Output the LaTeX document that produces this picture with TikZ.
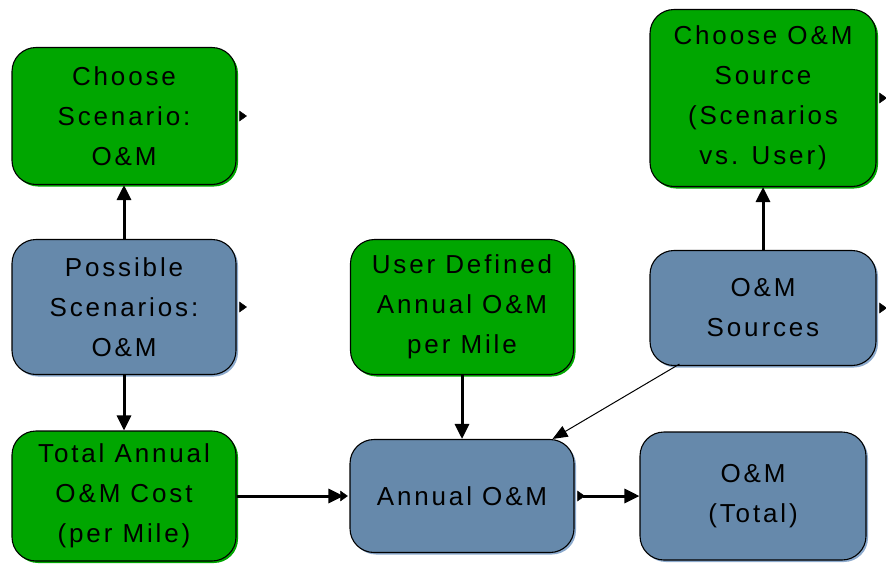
\documentclass[tikz,border=0pt]{standalone}
\usepackage{fontspec}
\setmainfont{Liberation Sans}
\usetikzlibrary{arrows.meta,shadows,calc}
\definecolor{gfill}{RGB}{0,166,0}
\definecolor{bfill}{RGB}{102,137,171}
\definecolor{bshadow}{RGB}{140,170,205}
\newfontfamily\boxfont[LetterSpace=11]{Liberation Sans}
\tikzset{
  base/.style={draw=black, line width=1.1pt, rounded corners=24pt, align=center,
    font=\boxfont\fontsize{26}{40}\selectfont, inner sep=0pt},
  gbox/.style={base, fill=gfill, drop shadow={shadow xshift=2pt, shadow yshift=-2pt, fill=gfill, opacity=1}},
  bbox/.style={base, fill=bfill, drop shadow={shadow xshift=2pt, shadow yshift=-2pt, fill=bshadow, opacity=1}},
  flow/.style={line width=3pt, -{Triangle[length=15pt,width=14pt]}},
  thinflow/.style={line width=1pt, -{Triangle[length=15pt,width=12pt]}},
  markglyph/.style={fill=black, draw=black, line width=0.4pt}
}
\begin{document}
\begin{tikzpicture}[x=1pt,y=-1pt]
\useasboundingbox (0,0) rectangle (886,563);
\node[gbox, minimum width=224pt, minimum height=137pt] (cs) at (124,116) {Choose\\Scenario:\\O\&M};
\node[bbox, minimum width=224pt, minimum height=135pt] (ps) at (124,307) {Possible\\Scenarios:\\O\&M};
\node[gbox, minimum width=224pt, minimum height=130pt] (ta) at (124,496) {Total Annual\\O\&M Cost\\(per Mile)};
\node[gbox, minimum width=223pt, minimum height=135pt] (ud) at (462,307) {User Defined\\Annual O\&M\\per Mile};
\node[bbox, minimum width=224pt, minimum height=113pt] (ao) at (462,496) {Annual O\&M};
\node[gbox, minimum width=226pt, minimum height=177pt] (cos) at (763,98) {Choose O\&M\\Source\\(Scenarios\\vs. User)};
\node[bbox, minimum width=226pt, minimum height=115pt] (os) at (763,308) {O\&M\\Sources};
\node[bbox, minimum width=226pt, minimum height=128pt] (ot) at (753,496) {O\&M\\(Total)};

\draw[flow] (ps.north) -- (cs.south);
\draw[flow] (ps.south) -- (ta.north);
\draw[flow] (ta.east) -- ($(ao.west)+(-6,0)$);
\draw[flow] (ud.south) -- (ao.north);
\draw[flow] (os.north) -- (cos.south);
\draw[flow] ($(ao.east)+(8,0)$) -- (ot.west);
\draw[thinflow] ($(os.south west)+(30,-2)$) -- ($(ao.north east)+(-22,0)$);

\foreach \n in {cs,ps,cos,os,ao}{
  \fill[markglyph] ($(\n.east)+(3,-5)$) -- ($(\n.east)+(10,0)$) -- ($(\n.east)+(3,5)$) -- cycle;
}
\fill[markglyph] ($(ao.west)+(-9,-5)$) -- ($(ao.west)+(-2,0)$) -- ($(ao.west)+(-9,5)$) -- cycle;
\end{tikzpicture}
\end{document}
